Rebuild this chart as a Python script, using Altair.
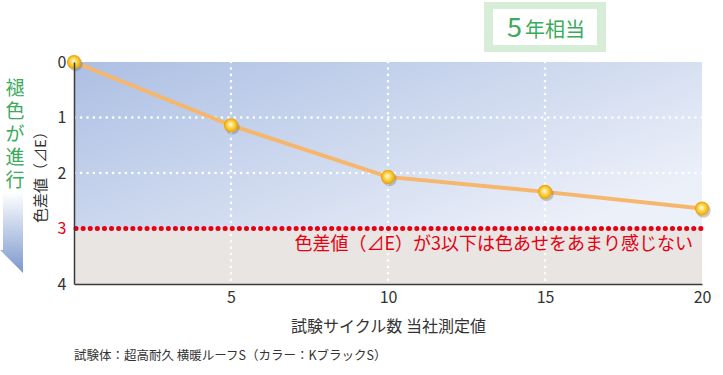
import altair as alt
import pandas as pd

# ---- data ----
cycles = [0, 5, 10, 15, 20]
delta_e = [0.0, 1.14, 2.07, 2.34, 2.64]
x_ticks = [5, 10, 15, 20]
y_ticks = [0, 1, 2, 3, 4]
grid_y = [1, 2]
grid_x = [5, 10, 15]
threshold = 3
x_max = 20
y_max = 4

y_title = "色差値（⊿E）"
x_title = "試験サイクル数 当社測定値"
note_text = "色差値（⊿E）が3以下は色あせをあまり感じない"
side_chars = ["褪", "色", "が", "進", "行"]
badge_num = "5"
badge_txt = "年相当"
footnote = "試験体：超高耐久 横暖ルーフS（カラー：KブラックS）"

FONT = "Noto Sans CJK JP"
RED = "#e60012"
GREEN = "#3aab5c"
W, H = 628, 222

xs = alt.Scale(domain=[0, x_max], nice=False, zero=True)
ys = alt.Scale(domain=[0, y_max], reverse=True, nice=False)

XAX = alt.Axis(
    values=x_ticks, title=x_title, grid=False, ticks=False,
    domainColor="#3a3a3a", domainWidth=1.5, labelFlush=False,
    labelFontSize=16, labelColor="#333333", labelPadding=5, labelFont=FONT,
    titleFont=FONT, titleFontSize=16, titleFontWeight="normal", titleColor="#333333",
    titleY=42, titleBaseline="middle", zindex=1,
)
YAX = alt.Axis(
    values=y_ticks, title=y_title, grid=False, ticks=False,
    domainColor="#3a3a3a", domainWidth=1.5, labelFlush=False,
    labelFontSize=16, labelPadding=8, labelFont=FONT,
    labelColor={"expr": "datum.value === 3 ? '#e60012' : '#333333'"},
    titleFont=FONT, titleFontSize=15, titleFontWeight="normal", titleColor="#333333",
    titleX=-34, titleY=111, titleAngle=270, titleAlign="center", titleBaseline="middle",
    zindex=1,
)

df = pd.DataFrame({"cycle": cycles, "de": delta_e})
one = pd.DataFrame({"a": [0]})

blue_grad = {
    "gradient": "linear", "x1": 0, "y1": 0, "x2": 1, "y2": 0.7,
    "stops": [{"offset": 0, "color": "#acbfe3"}, {"offset": 1, "color": "#ecf0f9"}],
}
zone_blue = alt.Chart(pd.DataFrame({"x0": [0], "x1": [x_max], "y0": [0], "y1": [threshold]})).mark_rect(
    fill=blue_grad
).encode(
    x=alt.X("x0:Q", scale=xs, axis=XAX), x2="x1:Q",
    y=alt.Y("y0:Q", scale=ys, axis=YAX), y2="y1:Q",
)
zone_gray = alt.Chart(pd.DataFrame({"x0": [0], "x1": [x_max], "y0": [threshold], "y1": [y_max]})).mark_rect(
    fill="#e8e5e2"
).encode(
    x=alt.X("x0:Q", scale=xs, axis=XAX), x2="x1:Q",
    y=alt.Y("y0:Q", scale=ys, axis=YAX), y2="y1:Q",
)

hgrid = alt.Chart(pd.DataFrame({"y": grid_y})).mark_rule(
    color="white", strokeWidth=2.5, strokeDash=[0.1, 6.3], strokeCap="round"
).encode(y=alt.Y("y:Q", scale=ys, axis=YAX))

vgrid = alt.Chart(pd.DataFrame({"x": grid_x})).mark_rule(
    color="white", strokeWidth=2.5, strokeDash=[0.1, 6.3], strokeCap="round"
).encode(x=alt.X("x:Q", scale=xs, axis=XAX))

red_rule = alt.Chart(one).mark_rule(
    color=RED, strokeWidth=5, strokeDash=[0.1, 7], strokeCap="round"
).encode(
    y=alt.Y(datum=threshold, scale=ys, axis=YAX),
    x=alt.value(2), x2=alt.value(W + 4),
)

line = alt.Chart(df).mark_line(color="#f6b66b", strokeWidth=4).encode(
    x=alt.X("cycle:Q", scale=xs, axis=XAX),
    y=alt.Y("de:Q", scale=ys, axis=YAX),
)

shadow = alt.Chart(df).mark_circle(size=210, color="#555555", opacity=0.3, xOffset=1.5, yOffset=2).encode(
    x=alt.X("cycle:Q", scale=xs, axis=XAX), y=alt.Y("de:Q", scale=ys, axis=YAX)
)
pt_grad = {
    "gradient": "radial", "x1": 0.45, "y1": 0.42, "r1": 0, "x2": 0.5, "y2": 0.5, "r2": 0.5,
    "stops": [
        {"offset": 0, "color": "#fffbe6"},
        {"offset": 0.35, "color": "#fde07a"},
        {"offset": 0.75, "color": "#f7bd1c"},
        {"offset": 1, "color": "#e89d00"},
    ],
}
points = alt.Chart(df).mark_circle(size=200, fill=pt_grad, opacity=1).encode(
    x=alt.X("cycle:Q", scale=xs, axis=XAX), y=alt.Y("de:Q", scale=ys, axis=YAX)
)

note = alt.Chart(one).mark_text(
    text=note_text, color=RED, font=FONT, fontSize=18, align="right", baseline="middle", dx=-9
).encode(
    x=alt.X(datum=x_max, scale=xs, axis=XAX), y=alt.Y(datum=3.3, scale=ys, axis=YAX)
)

side = alt.Chart(one).mark_text(
    text=side_chars, color=GREEN, font=FONT, fontSize=19, lineHeight=23,
    align="center", baseline="top"
).encode(x=alt.value(-59), y=alt.value(18))

arrow_path = "M -0.21 -1 L 0.284 -1 L 0.284 1 L -0.284 0.43 L -0.21 0.43 Z"
arrow_grad = {
    "gradient": "linear", "x1": 0, "y1": 0, "x2": 0, "y2": 1,
    "stops": [{"offset": 0, "color": "#ffffff"}, {"offset": 1, "color": "#7b97cd"}],
}
arrow = alt.Chart(one).mark_point(
    shape=arrow_path, size=6561, filled=True, fill=arrow_grad, strokeWidth=0, opacity=1
).encode(x=alt.value(-62.5), y=alt.value(170.5))

badge_outer = alt.Chart(one).mark_rect(color="#d8edd7").encode(
    x=alt.value(410), x2=alt.value(532), y=alt.value(-60), y2=alt.value(-10)
)
badge_inner = alt.Chart(one).mark_rect(color="#ffffff").encode(
    x=alt.value(419), x2=alt.value(523), y=alt.value(-53), y2=alt.value(-17)
)
badge_n = alt.Chart(one).mark_text(
    text=badge_num, color=GREEN, font=FONT, fontSize=27, align="right", baseline="alphabetic"
).encode(x=alt.value(448), y=alt.value(-25))
badge_t = alt.Chart(one).mark_text(
    text=badge_txt, color=GREEN, font=FONT, fontSize=20, align="left", baseline="alphabetic"
).encode(x=alt.value(451), y=alt.value(-25))

foot = alt.Chart(one).mark_text(
    text=footnote, color="#333333", font=FONT, fontSize=12.5, align="left", baseline="middle"
).encode(x=alt.value(0), y=alt.value(294))

chart = alt.layer(
    zone_blue, zone_gray, hgrid, vgrid, red_rule, line, shadow, points, note,
    side, arrow, badge_outer, badge_inner, badge_n, badge_t, foot,
).properties(
    width=W, height=H,
    autosize=alt.AutoSizeParams(type="none"),
    padding={"left": 74, "top": 62, "right": 21, "bottom": 91},
    background="white",
).configure_view(stroke=None)

chart.save("out.html", embed_options={"renderer": "svg", "actions": False})
